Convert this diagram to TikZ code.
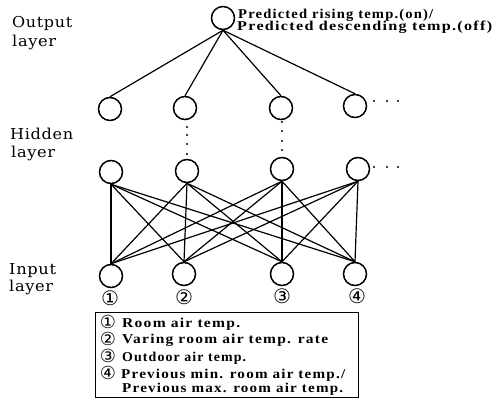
\documentclass[tikz,border=0pt]{standalone}
\usepackage{fontspec}
\usepackage{graphicx}
\setmainfont{DejaVu Serif}[LetterSpace=4]
\newfontfamily\txtfont{Liberation Serif}[LetterSpace=8]
\newfontfamily\cdig{DejaVu Sans}
\newcommand\fitw[2]{\resizebox{#1}{\height}{#2}}
\begin{document}
\begin{tikzpicture}[x=1pt,y=-1pt,
  neuron/.style={circle,draw,line width=1.5pt,minimum size=23pt,inner sep=0pt},
  link/.style={line width=1.2pt},
  lbl/.style={anchor=base west,inner sep=0pt,font=\fontsize{15}{17}\selectfont},
  txt/.style={anchor=base west,inner sep=0pt,font=\txtfont\fontsize{13.5}{14}\selectfont\bfseries},
  dig/.style={anchor=center,inner sep=0pt,text height=13pt,text depth=0pt,font=\fontsize{20}{20}\selectfont\cdig},
  kdig/.style={anchor=center,inner sep=0pt,text height=12pt,text depth=0pt,font=\fontsize{18}{18}\selectfont\cdig}]
\useasboundingbox (0,0) rectangle (493,398);
% layer labels
\node[lbl] (lo1) at (12,28) {\fitw{60pt}{Output}};
\node[lbl] (lo2) at (12,47) {\fitw{44pt}{layer}};
\node[lbl] (lh1) at (10,140) {\fitw{63pt}{Hidden}};
\node[lbl] (lh2) at (11,158) {\fitw{44pt}{layer}};
\node[lbl] (li1) at (9,275) {\fitw{47pt}{Input}};
\node[lbl] (li2) at (9,292) {\fitw{44pt}{layer}};
% neurons
\node[neuron] (out) at (223,18) {};
\node[neuron] (a1) at (110,109) {};
\node[neuron] (a2) at (185,108) {};
\node[neuron] (a3) at (281,108) {};
\node[neuron] (a4) at (355,106) {};
\node[neuron] (b1) at (111,172) {};
\node[neuron] (b2) at (187,171) {};
\node[neuron] (b3) at (282,169) {};
\node[neuron] (b4) at (358,169) {};
\node[neuron] (c1) at (111,276) {};
\node[neuron] (c2) at (184,274) {};
\node[neuron] (c3) at (282,274) {};
\node[neuron] (c4) at (355,274) {};
% output text
\node[txt] (t1) at (238,19) {\fitw{195pt}{Predicted rising temp.(on)/}};
\node[txt] (t2) at (237,31) {\fitw{255pt}{Predicted descending temp.(off)}};
% connectors output - hidden
\foreach \i in {1,...,4} \draw[link] (out.south) -- (a\i.north);
% connectors hidden - input
\foreach \i in {1,...,4} \foreach \j in {1,...,4} \draw[link] (b\i.south) -- (c\j.north);
% vertical dots
\foreach \y in {127,135,144,154} \fill (187,\y) circle (1.2pt);
\foreach \y in {122,131,141,150} \fill (282,\y) circle (1.2pt);
% horizontal dots
\foreach \x in {374,387,398} {\fill (\x,101) circle (1.2pt); \fill (\x,167) circle (1.2pt);}
% input numbers
\node[dig] (n1) at (110,299) {①};
\node[dig] (n2) at (184,298) {②};
\node[dig] (n3) at (282,297) {③};
\node[dig] (n4) at (357,297) {④};
% legend
\node[draw,line width=1.2pt,minimum width=263pt,minimum height=85pt,anchor=north west,inner sep=0pt] (legend) at (95,312) {};
\node[kdig] (k1) at (108,322) {①};
\node[kdig] (k2) at (108,339) {②};
\node[kdig] (k3) at (108,356) {③};
\node[kdig] (k4) at (108,373) {④};
\node[txt] (l1) at (122,327) {\fitw{118pt}{Room air temp.}};
\node[txt] (l2) at (122,343) {\fitw{206pt}{Varing room air temp. rate}};
\node[txt] (l3) at (122,361) {\fitw{124pt}{Outdoor air temp.}};
\node[txt] (l4) at (121,378) {\fitw{224pt}{Previous min. room air temp./}};
\node[txt] (l5) at (122,392) {\fitw{221pt}{Previous max. room air temp.}};
\end{tikzpicture}
\end{document}
